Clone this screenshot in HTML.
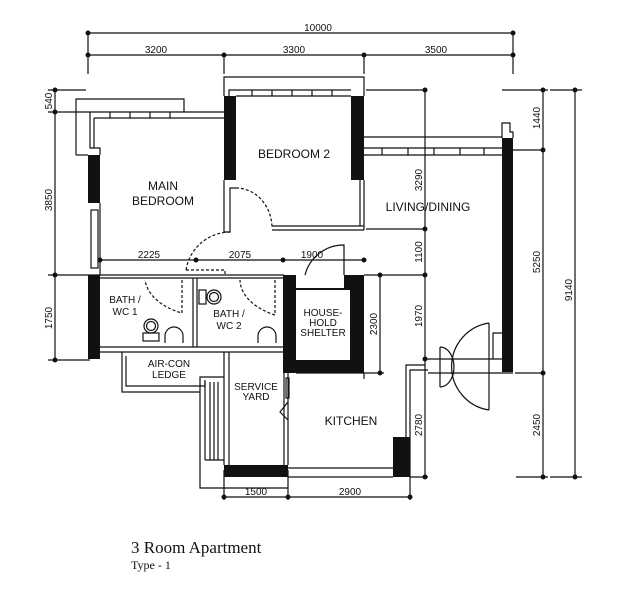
<!DOCTYPE html>
<html><head><meta charset="utf-8"><style>
html,body{margin:0;padding:0;background:#fff;width:636px;height:600px;overflow:hidden}
svg{display:block}
text{font-family:"Liberation Sans",sans-serif;fill:#111}
</style></head><body>
<svg width="636" height="600" viewBox="0 0 636 600" xmlns="http://www.w3.org/2000/svg">
<g stroke="#111" stroke-width="1.2" fill="none">
<line x1="88" y1="33" x2="513" y2="33"/>
<line x1="88" y1="55" x2="513" y2="55"/>
<line x1="88" y1="33" x2="88" y2="74"/>
<line x1="513" y1="33" x2="513" y2="74"/>
<line x1="224" y1="55" x2="224" y2="74"/>
<line x1="364" y1="55" x2="364" y2="74"/>
<line x1="55" y1="90" x2="55" y2="360"/>
<line x1="48" y1="90" x2="86" y2="90"/>
<line x1="48" y1="112" x2="88" y2="112"/>
<line x1="48" y1="275" x2="100" y2="275"/>
<line x1="48" y1="360" x2="90" y2="360"/>
<line x1="543" y1="90" x2="543" y2="477"/>
<line x1="575" y1="90" x2="575" y2="477"/>
<line x1="502" y1="90" x2="548" y2="90"/>
<line x1="550" y1="90" x2="582" y2="90"/>
<line x1="513" y1="150" x2="545" y2="150"/>
<line x1="515" y1="373" x2="545" y2="373"/>
<line x1="516" y1="477" x2="548" y2="477"/>
<line x1="550" y1="477" x2="582" y2="477"/>
<line x1="425" y1="90" x2="425" y2="477"/>
<line x1="366" y1="90" x2="425" y2="90"/>
<line x1="366" y1="229" x2="425" y2="229"/>
<line x1="364" y1="275" x2="425" y2="275"/>
<line x1="380" y1="275" x2="380" y2="373"/>
<line x1="364" y1="373" x2="384" y2="373"/>
<line x1="410" y1="477" x2="428" y2="477"/>
<line x1="100" y1="260" x2="364" y2="260"/>
<line x1="224" y1="497" x2="410" y2="497"/>
<line x1="224" y1="470" x2="224" y2="500"/>
<line x1="288" y1="470" x2="288" y2="500"/>
<line x1="410" y1="437" x2="410" y2="500"/>
</g>
<g fill="#111">
<circle cx="88" cy="33" r="2.5"/><circle cx="513" cy="33" r="2.5"/>
<circle cx="88" cy="55" r="2.5"/><circle cx="224" cy="55" r="2.5"/><circle cx="364" cy="55" r="2.5"/><circle cx="513" cy="55" r="2.5"/>
<circle cx="55" cy="90" r="2.5"/><circle cx="55" cy="112" r="2.5"/><circle cx="55" cy="275" r="2.5"/><circle cx="55" cy="360" r="2.5"/>
<circle cx="543" cy="90" r="2.5"/><circle cx="543" cy="150" r="2.5"/><circle cx="543" cy="373" r="2.5"/><circle cx="543" cy="477" r="2.5"/>
<circle cx="575" cy="90" r="2.5"/><circle cx="575" cy="477" r="2.5"/>
<circle cx="425" cy="90" r="2.5"/><circle cx="425" cy="229" r="2.5"/><circle cx="425" cy="275" r="2.5"/><circle cx="425" cy="359" r="2.5"/><circle cx="425" cy="477" r="2.5"/>
<circle cx="380" cy="275" r="2.5"/><circle cx="380" cy="373" r="2.5"/>
<circle cx="100" cy="260" r="2.5"/><circle cx="196" cy="260" r="2.5"/><circle cx="283" cy="260" r="2.5"/><circle cx="364" cy="260" r="2.5"/>
<circle cx="224" cy="497" r="2.5"/><circle cx="288" cy="497" r="2.5"/><circle cx="410" cy="497" r="2.5"/>
</g>
<g stroke="#111" stroke-width="1.2" fill="none">
<path d="M76 155 V99 H184 V112"/>
<line x1="88" y1="112" x2="224" y2="112"/><line x1="94" y1="118" x2="224" y2="118"/>
<line x1="110" y1="112" x2="110" y2="118"/><line x1="130" y1="112" x2="130" y2="118"/><line x1="150" y1="112" x2="150" y2="118"/><line x1="170" y1="112" x2="170" y2="118"/>
<path d="M76 155 H88"/>
<path d="M90 112 V148 H100 V155"/><path d="M94 118 V148"/>
<rect x="91" y="210" width="7" height="58"/>
<line x1="100" y1="203" x2="100" y2="275"/>
<path d="M224 96 V77 H364 V96"/><path d="M229 96 V90 H351"/>
<line x1="236" y1="96" x2="351" y2="96"/>
<line x1="252" y1="90" x2="252" y2="96"/><line x1="272" y1="90" x2="272" y2="96"/><line x1="292" y1="90" x2="292" y2="96"/><line x1="312" y1="90" x2="312" y2="96"/><line x1="332" y1="90" x2="332" y2="96"/>
<path d="M224 180 V232 H230 V188 H236"/>
<path d="M236 188 A36 40 0 0 1 272 228" stroke-dasharray="3,2"/>
<path d="M272 226 H364 M272 230 H364"/><line x1="364" y1="180" x2="364" y2="230"/><line x1="360" y1="180" x2="360" y2="226"/>
<path d="M230 232 A45 45 0 0 0 186 270" stroke-dasharray="3,2"/>
<path d="M186 270 H225 V275" stroke-dasharray="3,2"/>
<line x1="364" y1="137" x2="502" y2="137"/><line x1="364" y1="148" x2="502" y2="148"/><line x1="364" y1="155" x2="502" y2="155"/>
<line x1="382" y1="148" x2="382" y2="155"/><line x1="408" y1="148" x2="408" y2="155"/><line x1="434" y1="148" x2="434" y2="155"/><line x1="460" y1="148" x2="460" y2="155"/><line x1="484" y1="148" x2="484" y2="155"/>
<path d="M502 138 V123 H510 V132 H513 V138"/>
<line x1="100" y1="275" x2="284" y2="275"/><line x1="100" y1="278" x2="284" y2="278"/>
<line x1="100" y1="347" x2="284" y2="347"/><line x1="100" y1="352" x2="284" y2="352"/>
<line x1="193" y1="278" x2="193" y2="347"/><line x1="197" y1="278" x2="197" y2="347"/>
<path d="M182 280 V313 A60 40 0 0 1 145 280" stroke-dasharray="3,2"/>
<path d="M275 280 V315 A65 40 0 0 1 240 280" stroke-dasharray="3,2"/>
<circle cx="151" cy="326" r="7"/><circle cx="151" cy="326" r="4.5"/><rect x="143" y="333" width="16" height="8"/>
<path d="M165 343 V336 A9 9 0 0 1 183 336 V343"/>
<path d="M258 343 V336 A9 9 0 0 1 276 336 V343"/>
<rect x="199" y="290" width="7" height="14"/><circle cx="214" cy="297" r="7"/><circle cx="214" cy="297" r="4.5"/>
<path d="M122 352 V392 H200 V377 H224"/><path d="M126 356 V386 H205 V380"/>
<line x1="224" y1="352" x2="224" y2="465"/><line x1="229" y1="352" x2="229" y2="465"/>
<path d="M200 392 V488 H288"/>
<line x1="205" y1="382" x2="205" y2="460"/><line x1="210" y1="382" x2="210" y2="460"/><line x1="214" y1="382" x2="214" y2="460"/><line x1="218" y1="382" x2="218" y2="460"/>
<line x1="205" y1="460" x2="224" y2="460"/>
<line x1="284" y1="372" x2="284" y2="465"/>
<line x1="288" y1="373" x2="288" y2="465"/>
<rect x="286" y="378" width="3" height="20"/>
<path d="M288 402 L280 412 L288 420"/>
<line x1="288" y1="468" x2="393" y2="468"/><line x1="288" y1="477" x2="393" y2="477"/>
<path d="M406 437 V365 H425"/><path d="M410 437 V370 H428"/>
<line x1="296" y1="373" x2="364" y2="373"/><line x1="364" y1="373" x2="364" y2="379"/>
<line x1="425" y1="359" x2="502" y2="359"/><line x1="428" y1="373" x2="513" y2="373"/>
<line x1="489" y1="323" x2="489" y2="410"/>
<path d="M489 323 A44 44 0 0 0 489 410"/>
<line x1="440" y1="347" x2="440" y2="387"/>
<path d="M440 347 A14 20 0 0 1 440 387"/>
<path d="M493 359 V333 H502"/>
<path d="M344 275 V245 A40 40 0 0 0 305 275"/>
</g>
<g fill="#111">
<rect x="88" y="155" width="12" height="48"/>
<rect x="88" y="275" width="12" height="84"/>
<rect x="224" y="96" width="12" height="84"/>
<rect x="351" y="96" width="13" height="84"/>
<rect x="502" y="138" width="11" height="234"/>
<path d="M283 275 H296 V288 H344 V275 H364 V373 H283 Z M296 290 V360 H350 V290 Z" fill-rule="evenodd"/>
<rect x="224" y="465" width="64" height="12"/>
<rect x="393" y="437" width="17" height="40"/>
</g>
<g font-size="10">
<text x="318" y="31" text-anchor="middle">10000</text>
<text x="156" y="53" text-anchor="middle">3200</text>
<text x="294" y="53" text-anchor="middle">3300</text>
<text x="436" y="53" text-anchor="middle">3500</text>
<text x="149" y="258" text-anchor="middle">2225</text>
<text x="240" y="258" text-anchor="middle">2075</text>
<text x="312" y="258" text-anchor="middle">1900</text>
<text x="256" y="495" text-anchor="middle">1500</text>
<text x="350" y="495" text-anchor="middle">2900</text>
<text transform="translate(52,101) rotate(-90)" text-anchor="middle">540</text>
<text transform="translate(52,200) rotate(-90)" text-anchor="middle">3850</text>
<text transform="translate(52,318) rotate(-90)" text-anchor="middle">1750</text>
<text transform="translate(422,180) rotate(-90)" text-anchor="middle">3290</text>
<text transform="translate(422,252) rotate(-90)" text-anchor="middle">1100</text>
<text transform="translate(422,316) rotate(-90)" text-anchor="middle">1970</text>
<text transform="translate(422,425) rotate(-90)" text-anchor="middle">2780</text>
<text transform="translate(377,324) rotate(-90)" text-anchor="middle">2300</text>
<text transform="translate(540,118) rotate(-90)" text-anchor="middle">1440</text>
<text transform="translate(540,262) rotate(-90)" text-anchor="middle">5250</text>
<text transform="translate(540,425) rotate(-90)" text-anchor="middle">2450</text>
<text transform="translate(572,290) rotate(-90)" text-anchor="middle">9140</text>
</g>
<g font-size="12" text-anchor="middle">
<text x="163" y="190">MAIN</text><text x="163" y="205">BEDROOM</text>
<text x="294" y="158">BEDROOM 2</text>
<text x="428" y="211">LIVING/DINING</text>
<text x="351" y="425">KITCHEN</text>
</g>
<g font-size="10" text-anchor="middle">
<text x="125" y="303">BATH /</text><text x="125" y="315">WC 1</text>
<text x="229" y="317">BATH /</text><text x="229" y="329">WC 2</text>
<text x="323" y="316">HOUSE-</text><text x="323" y="326">HOLD</text><text x="323" y="336">SHELTER</text>
<text x="169" y="367">AIR-CON</text><text x="169" y="378">LEDGE</text>
<text x="256" y="390">SERVICE</text><text x="256" y="400">YARD</text>
</g>
<text x="131" y="553" style="font-family:'Liberation Serif',serif;font-size:17px">3 Room Apartment</text>
<text x="131" y="569" style="font-family:'Liberation Serif',serif;font-size:12px">Type - 1</text>
</svg>
</body></html>
